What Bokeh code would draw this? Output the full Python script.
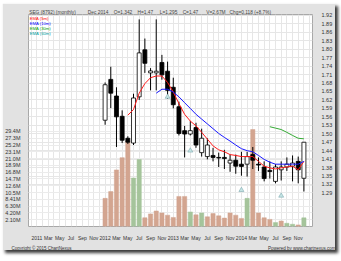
from bokeh.plotting import figure
from bokeh.models import Range1d, LinearAxis, FixedTicker, Label, Grid, ColumnDataSource, NumeralTickFormatter, Title
from bokeh.embed import file_html
from bokeh.resources import INLINE

# month index: 0 = Jan 2012 ... 35 = Dec 2014
months = list(range(36))
open_ = [1.548, 1.693, 1.634, 1.562, 1.484, 1.467, 1.631, 1.798, 1.716, 1.716,
         1.753, 1.722, 1.665, 1.596, 1.511, 1.499, 1.522, 1.433, 1.419, 1.423,
         1.416, 1.416, 1.396, 1.406, 1.392, 1.392, 1.426, 1.392, 1.382, 1.370,
         1.331, 1.372, 1.382, 1.385, 1.402, 1.342]
high = [1.682, 1.738, 1.665, 1.583, 1.491, 1.642, 1.906, 1.838, 1.733, 1.906,
        1.780, 1.756, 1.699, 1.614, 1.528, 1.545, 1.539, 1.518, 1.484, 1.450,
        1.433, 1.443, 1.426, 1.426, 1.436, 1.436, 1.453, 1.416, 1.402, 1.402,
        1.392, 1.402, 1.416, 1.423, 1.419, 1.470]
low = [1.532, 1.591, 1.453, 1.467, 1.464, 1.460, 1.620, 1.716, 1.654, 1.654,
       1.692, 1.624, 1.590, 1.494, 1.416, 1.494, 1.450, 1.419, 1.409, 1.402,
       1.382, 1.375, 1.365, 1.358, 1.351, 1.348, 1.375, 1.368, 1.331, 1.341,
       1.324, 1.334, 1.368, 1.331, 1.324, 1.295]
close = [1.674, 1.644, 1.560, 1.477, 1.470, 1.627, 1.787, 1.750, 1.723, 1.722,
         1.709, 1.654, 1.603, 1.501, 1.499, 1.511, 1.460, 1.484, 1.460, 1.416,
         1.414, 1.412, 1.406, 1.385, 1.384, 1.419, 1.406, 1.389, 1.341, 1.366,
         1.382, 1.382, 1.392, 1.396, 1.372, 1.470]
volume_m = [8.7, 10.8, 17.5, 21.3, 26.4, 15.0, 20.7, 2.7, 3.9, 4.8,
            4.2, 3.5, 2.8, 9.3, 9.3, 4.5, 3.6, 4.2, 3.0, 4.0,
            3.3, 2.6, 4.2, 3.5, 2.5, 8.7, 30.0, 4.2, 2.7, 2.2,
            1.2, 1.7, 1.0, 0.7, 0.5, 2.67]
volume_up = [0, 0, 0, 0, 0, 1, 1, 0, 0, 0,
             0, 0, 0, 0, 0, 1, 0, 1, 0, 0,
             0, 0, 0, 0, 0, 1, 0, 0, 0, 0,
             1, 0, 1, 1, 0, 1]

ema5_months = list(range(4, 36))
ema5 = [1.566, 1.586, 1.644, 1.678, 1.699, 1.705, 1.705, 1.682, 1.648, 1.607,
        1.569, 1.545, 1.528, 1.505, 1.481, 1.457, 1.443, 1.436, 1.426, 1.423,
        1.419, 1.419, 1.419, 1.402, 1.385, 1.379, 1.375, 1.379, 1.382, 1.385,
        1.372, 1.402]
ema10_months = list(range(9, 36))
ema10 = [1.644, 1.658, 1.658, 1.648, 1.631, 1.610, 1.590, 1.569, 1.552, 1.535,
         1.518, 1.501, 1.487, 1.474, 1.460, 1.447, 1.440, 1.436, 1.423, 1.409,
         1.399, 1.392, 1.392, 1.392, 1.392, 1.392, 1.402]
ema30_months = list(range(29, 36))
ema30 = [1.525, 1.520, 1.515, 1.505, 1.494, 1.484, 1.482]

signal_months = [11, 15, 24, 31]
signal_price = [1.631, 1.440, 1.300, 1.280]

price_ticks = [1.29, 1.32, 1.35, 1.38, 1.41, 1.44, 1.47, 1.50, 1.53, 1.56, 1.59,
               1.62, 1.65, 1.68, 1.71, 1.74, 1.77, 1.80, 1.83, 1.86, 1.89, 1.92]
vol_ticks = [2.10, 4.20, 6.30, 8.41, 10.5, 12.6, 14.7, 16.8, 18.9, 21.0, 23.1, 25.2, 27.3, 29.4]
vol_labels = ["2.10M", "4.20M", "6.30M", "8.41M", "10.5M", "12.6M", "14.7M",
              "16.8M", "18.9M", "21.0M", "23.1M", "25.2M", "27.3M", "29.4M"]
x_ticks = [-12, -10, -8, -6, -4, -2, 0, 2, 4, 6, 8, 10, 12, 14, 16, 18, 20, 22,
           24, 26, 28, 30, 32, 34]
x_labels = ["2011", "Mar", "May", "Jul", "Sep", "Nov",
            "2012", "Mar", "May", "Jul", "Sep", "Nov",
            "2013", "Mar", "May", "Jul", "Sep", "Nov",
            "2014", "Mar", "May", "Jul", "Sep", "Nov"]

title_parts = ["SEG (8792) (monthly)", "Dec 2014", "O=1.342", "H=1.47", "L=1.295",
               "C=1.47", "V=2.67M", "Chg=0.118 (+8.7%)"]
title_gaps = [9, 4, 4, 5, 4, 6, 3]
legend_items = [("EMA (5m)", "#ff0000"), ("EMA (10m)", "#0000ff"),
                ("EMA (30m)", "#00a000"), ("EMA (60m)", "#00a0a0")]
footer_left = "Copyright \u00a9 2015 ChartNexus"
footer_right = "Powered by www.chartnexus.com"

FONT = "Liberation Sans"
NB = "\u00a0"

X0, X1 = -13.488, 36.512
Y0, Y1 = 1.1708, 1.9233

p = figure(width=333, height=247, x_range=Range1d(X0, X1),
           y_range=Range1d(Y0, Y1), y_axis_location="right",
           output_backend="svg", toolbar_location=None,
           min_border_left=20, min_border_right=22, min_border_top=11, min_border_bottom=15,
           border_fill_color="#e2e2e2", background_fill_color="#ffffff",
           outline_line_color="#a8a8a8", margin=(3, 0, 0, 2),
           styles={"box-shadow": "3px 3px 3px #3a3a3a"})
p.extra_y_ranges = {"vol": Range1d(0, 65.57)}

# header line
head = title_parts[0]
for g, t in zip(title_gaps, title_parts[1:]):
    head += NB * g + t
p.title.text = head
p.title.align = "left"
p.title.offset = 0.7
p.title.standoff = 0
p.title.text_font = FONT
p.title.text_font_size = "4.8px"
p.title.text_font_style = "normal"
p.title.text_color = "#444444"

# footer line
foot = Title(text=footer_left + NB * 157 + footer_right, align="left", offset=-17,
             standoff=0, text_font=FONT, text_font_size="4.5px",
             text_font_style="normal", text_color="#333333")
p.add_layout(foot, "below")

# grids
p.xgrid.ticker = FixedTicker(ticks=list(range(-13, 37)))
p.xgrid.grid_line_color = "#e6e6e6"
p.ygrid.ticker = FixedTicker(ticks=price_ticks)
p.ygrid.grid_line_color = "#e6e6e6"
vgrid = Grid(dimension=1, ticker=FixedTicker(ticks=vol_ticks), y_range_name="vol",
             grid_line_color="#ebebeb")
p.add_layout(vgrid)

# price axis (right)
ya = p.yaxis[0]
ya.ticker = FixedTicker(ticks=price_ticks)
ya.formatter = NumeralTickFormatter(format="0.00")
ya.axis_line_color = None
ya.major_tick_line_color = None
ya.minor_tick_line_color = None
ya.major_label_standoff = 3
ya.major_label_text_font = FONT
ya.major_label_text_font_size = "5.5px"
ya.major_label_text_color = "#333333"

# volume axis (left)
va = LinearAxis(y_range_name="vol", ticker=FixedTicker(ticks=vol_ticks),
                major_label_overrides={t: l for t, l in zip(vol_ticks, vol_labels)},
                axis_line_color=None, major_tick_line_color=None, minor_tick_line_color=None,
                major_label_standoff=2, major_label_text_font=FONT,
                major_label_text_font_size="5.5px", major_label_text_color="#333333")
p.add_layout(va, "left")

# time axis
xa = p.xaxis[0]
xa.ticker = FixedTicker(ticks=x_ticks)
xa.major_label_overrides = {t: l for t, l in zip(x_ticks, x_labels)}
xa.major_label_text_align = "left"
xa.axis_line_color = None
xa.major_tick_line_color = None
xa.minor_tick_line_color = None
xa.major_label_standoff = 2
xa.major_label_text_font = FONT
xa.major_label_text_font_size = "5px"
xa.major_label_text_color = "#333333"

# volume bars
vsrc = ColumnDataSource(dict(
    x=months, v=volume_m,
    c=["#a5c49b" if u else "#d3a590" for u in volume_up]))
p.vbar(x="x", top="v", bottom=0, width=0.75, fill_color="c", line_color="c",
       line_width=0.5, y_range_name="vol", source=vsrc)

# candles
csrc = ColumnDataSource(dict(
    x=months, h=high, l=low,
    top=[max(o, c) for o, c in zip(open_, close)],
    bot=[min(o, c) for o, c in zip(open_, close)],
    fill=["#ffffff" if c >= o else "#000000" for o, c in zip(open_, close)]))
p.segment(x0="x", y0="h", x1="x", y1="l", line_color="#000000", line_width=1, source=csrc)
p.vbar(x="x", top="top", bottom="bot", width=0.7, fill_color="fill",
       line_color="#000000", line_width=0.8, source=csrc)

# EMA lines
p.line(ema5_months, ema5, line_color="#ff1a1a", line_width=1)
p.line(ema10_months, ema10, line_color="#1a1aff", line_width=1)
p.line(ema30_months, ema30, line_color="#33aa33", line_width=1)

# signal markers
p.scatter(signal_months, signal_price, marker="triangle", size=5,
          fill_color="#c4e4e4", line_color="#7fa9b0", line_width=0.6)

# legend texts in the top-left corner of the plot area (frame: 291 x 221 px)
px_x = (X1 - X0) / 291.0
px_y = (Y1 - Y0) / 221.0
for k, (t, c) in enumerate(legend_items):
    p.add_layout(Label(x=X0 + 1.3 * px_x, y=Y1 - (4.3 + 5 * k) * px_y,
                       text=t, text_font=FONT, text_font_size="4.2px", text_color=c,
                       text_align="left", text_baseline="middle"))

open("out.html", "w").write(file_html(p, INLINE))
